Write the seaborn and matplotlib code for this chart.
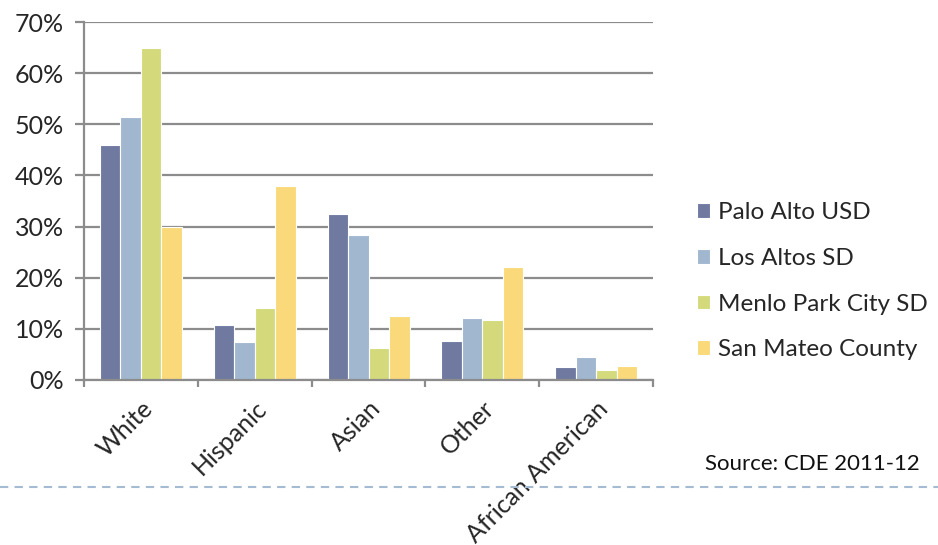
import matplotlib
matplotlib.use("Agg")
import matplotlib.pyplot as plt
from matplotlib.lines import Line2D
from matplotlib.ticker import PercentFormatter
import seaborn as sns
import pandas as pd

categories = ["White", "Hispanic", "Asian", "Other", "African American"]
districts = ["Palo Alto USD", "Los Altos SD", "Menlo Park City SD", "San Mateo County"]
palo_alto = [46.0, 10.8, 32.5, 7.7, 2.5]
los_altos = [51.4, 7.5, 28.4, 12.2, 4.4]
menlo_park = [65.0, 14.0, 6.3, 11.8, 2.0]
san_mateo = [30.0, 38.0, 12.6, 22.0, 2.7]
colors = ["#7079A0", "#A1B7CF", "#D4DA7B", "#F9D97A"]

series = [palo_alto, los_altos, menlo_park, san_mateo]
df = pd.DataFrame(
    [(c, d, v / 100) for d, vals in zip(districts, series) for c, v in zip(categories, vals)],
    columns=["Ethnicity", "District", "Share"],
)

sns.set_theme(style="white")
plt.rcParams["font.family"] = ["Lato", "DejaVu Sans"]

fig = plt.figure(figsize=(9.38, 5.45), dpi=100)
ax = fig.add_axes([0.0896, 0.3028, 0.6066, 0.6568])

sns.barplot(
    data=df, x="Ethnicity", y="Share", hue="District",
    order=categories, hue_order=districts, palette=colors,
    width=0.72, gap=0, edgecolor="white", linewidth=0.8,
    saturation=1, ax=ax, legend=True,
)

ax.set_ylim(0, 0.7)
ax.set_xlim(-0.5, len(categories) - 0.5)
ax.set_yticks([i / 10 for i in range(8)])
ax.yaxis.set_major_formatter(PercentFormatter(1.0, decimals=0))
ax.set_xlabel("")
ax.set_ylabel("")

ax.grid(axis="y", color="#8C8C8C", linewidth=1.6)
ax.set_axisbelow(True)
for side in ("top", "right"):
    ax.spines[side].set_visible(False)
for side in ("left", "bottom"):
    ax.spines[side].set_color("#8C8C8C")
    ax.spines[side].set_linewidth(1.6)

# category boundary ticks on the x axis
ax.set_xticks(range(len(categories)))
ax.set_xticks([i - 0.5 for i in range(len(categories) + 1)], minor=True)
ax.tick_params(axis="x", which="major", length=0, pad=12)
ax.tick_params(axis="x", which="minor", length=5, width=1.6, color="#8C8C8C", direction="out", bottom=True)
ax.tick_params(axis="y", length=6.5, width=1.6, color="#8C8C8C", direction="out", left=True, pad=8, labelsize=18)
ax.set_xticklabels(categories, rotation=45, ha="right", rotation_mode="anchor", fontsize=18)

leg = ax.legend(
    loc="center left", bbox_to_anchor=(0.743, 0.484), bbox_transform=fig.transFigure,
    frameon=False, fontsize=17.5, handlelength=0.55, handleheight=0.55,
    handletextpad=0.3, labelspacing=1.02, borderpad=0, borderaxespad=0,
)

fig.text(0.7516, 0.1376, "Source: CDE 2011-12", fontsize=16, color="#111111")

fig.add_artist(Line2D([0, 1], [0.1064, 0.1064], transform=fig.transFigure,
                      color="#A5BBD1", linewidth=1.5, linestyle=(0, (4, 3))))

fig.savefig("out.png", dpi=100)
